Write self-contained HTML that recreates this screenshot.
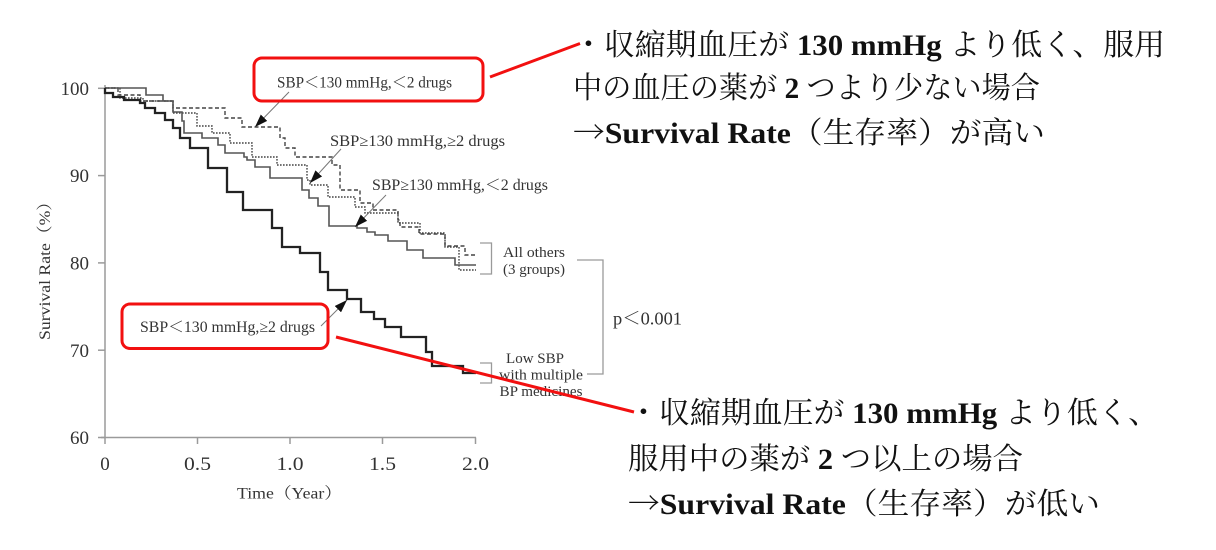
<!DOCTYPE html>
<html>
<head>
<meta charset="utf-8">
<style>
html,body{margin:0;padding:0;background:#fff;}
body{width:1216px;height:550px;overflow:hidden;}
svg{display:block;}
.ch{font-family:"Liberation Serif","Noto Serif CJK SC",serif;fill:#333;}
.jp{font-family:"Liberation Serif","Noto Serif CJK SC",serif;fill:#111;font-size:30px;}
.b{font-weight:bold;}
.ar{font-family:"Noto Serif CJK SC",serif;}
</style>
</head>
<body>
<svg width="1216" height="550" viewBox="0 0 1216 550" xmlns="http://www.w3.org/2000/svg">
<defs>
<marker id="ah" markerUnits="userSpaceOnUse" markerWidth="13" markerHeight="9" refX="13" refY="4.5" orient="auto">
<path d="M0,0 L13,4.5 L0,9 z" fill="#111"/>
</marker>
</defs>
<rect width="1216" height="550" fill="#fff"/>

<!-- axes -->
<g stroke="#9a9a9a" stroke-width="1.5" fill="none">
<line x1="105" y1="85" x2="105" y2="438"/>
<line x1="101" y1="437.5" x2="476" y2="437.5"/>
<line x1="98" y1="88.3" x2="105" y2="88.3"/>
<line x1="98" y1="175.6" x2="105" y2="175.6"/>
<line x1="98" y1="262.9" x2="105" y2="262.9"/>
<line x1="98" y1="350.2" x2="105" y2="350.2"/>
<line x1="98" y1="437.5" x2="105" y2="437.5"/>
<line x1="105" y1="437.5" x2="105" y2="444"/>
<line x1="197.5" y1="437.5" x2="197.5" y2="444"/>
<line x1="290" y1="437.5" x2="290" y2="444"/>
<line x1="382.5" y1="437.5" x2="382.5" y2="444"/>
<line x1="475.5" y1="437.5" x2="475.5" y2="444"/>
</g>

<!-- y tick labels -->
<g class="ch" font-size="19" text-anchor="end">
<text x="89" y="95">100</text>
<text x="89" y="182">90</text>
<text x="89" y="269.5">80</text>
<text x="89" y="357">70</text>
<text x="89" y="444">60</text>
</g>
<!-- x tick labels -->
<g class="ch" font-size="19" text-anchor="middle">
<text x="105" y="470">0</text>
<text x="197.5" y="470" textLength="27" lengthAdjust="spacingAndGlyphs">0.5</text>
<text x="290" y="470" textLength="27" lengthAdjust="spacingAndGlyphs">1.0</text>
<text x="382.5" y="470" textLength="27" lengthAdjust="spacingAndGlyphs">1.5</text>
<text x="475.5" y="470" textLength="27" lengthAdjust="spacingAndGlyphs">2.0</text>
</g>
<text class="ch" x="237" y="498.5" font-size="16" textLength="105" lengthAdjust="spacingAndGlyphs">Time（Year）</text>
<text class="ch" font-size="16" text-anchor="middle" transform="translate(50,266.5) rotate(-90)" textLength="147" lengthAdjust="spacingAndGlyphs">Survival Rate（%）</text>

<!-- curves -->
<g fill="none" stroke-linejoin="miter">
<path d="M105,88 H118 V95 H140 V101 H173 V108 H225 V118 H242 V127 H280 V138 H285 V148 H295 V157 H332 V165 H340 V190 H360 V203 H373 V210 H398 V220 H400 V227 H419 V234 H445 V246 H465 V255 H476" stroke="#444" stroke-width="1.4" stroke-dasharray="4,2.5"/>
<path d="M105,88 H120 V98 H143 V101 H173 V113 H197 V126 H212 V133 H230 V143 H252 V157 H277 V165 H307 V180 H310 V185 H328 V197 H355 V207 H365 V213 H398 V223 H420 V233 H445 V247 H459 V270 H476" stroke="#444" stroke-width="1.4" stroke-dasharray="1.6,1.4"/>
<path d="M105,88 H146 V95 H163 V101 H173 V112 H182 V121 H184 V133 H202 V138 H218 V145 H225 V153 H244 V157 H247 V160 H255 V167 H270 V178 H302 V190 H309 V198 H318 V206 H329 V226 H357 V228 H367 V232 H375 V235 H388 V241 H407 V250 H423 V258 H455 V265 H476" stroke="#555" stroke-width="1.6"/>
<path d="M105,88 V93 H113 V97 H124 V100 H140 V103 H145 V108 H155 V113 H165 V120 H173 V128 H180 V138 H190 V148 H208 V168 H227 V192 H243 V210 H272 V228 H282 V247 H300 V253 H320 V272 H328 V290 H347 V299 H361 V312 H374 V319 H385 V327 H401 V337 H426 V352 H432 V366 H463 V373 H476" stroke="#222" stroke-width="2.3"/>
</g>

<!-- arrows -->
<g stroke="#777" stroke-width="1" marker-end="url(#ah)">
<line x1="289" y1="92" x2="255" y2="127"/>
<line x1="341" y1="149" x2="310" y2="183"/>
<line x1="386" y1="195" x2="355" y2="227"/>
<line x1="321" y1="326" x2="347" y2="300"/>
</g>

<!-- series labels -->
<g class="ch" font-size="15.5">
<text x="277" y="87.5" textLength="175" lengthAdjust="spacingAndGlyphs">SBP＜130 mmHg,＜2 drugs</text>
<text x="330" y="146" textLength="175" lengthAdjust="spacingAndGlyphs">SBP≥130 mmHg,≥2 drugs</text>
<text x="372" y="190" textLength="176" lengthAdjust="spacingAndGlyphs">SBP≥130 mmHg,＜2 drugs</text>
<text x="140" y="332" textLength="175" lengthAdjust="spacingAndGlyphs">SBP＜130 mmHg,≥2 drugs</text>
</g>

<!-- brackets -->
<g stroke="#9a9a9a" stroke-width="1.3" fill="none">
<path d="M480,243 H491.5 V274 H480"/>
<path d="M480,363 H491.5 V383 H480"/>
<path d="M577,260 H603 V374 H587"/>
</g>
<g class="ch" font-size="15">
<text x="503" y="257" textLength="62" lengthAdjust="spacingAndGlyphs">All others</text>
<text x="503" y="274" textLength="62" lengthAdjust="spacingAndGlyphs">(3 groups)</text>
<text x="535" y="363" text-anchor="middle">Low SBP</text>
<text x="541" y="379.5" text-anchor="middle" textLength="84" lengthAdjust="spacingAndGlyphs">with multiple</text>
<text x="541" y="396" text-anchor="middle" textLength="83" lengthAdjust="spacingAndGlyphs">BP medicines</text>
</g>
<text class="ch" x="613" y="324.5" font-size="18" textLength="69" lengthAdjust="spacingAndGlyphs">p＜0.001</text>

<!-- red boxes and lines -->
<g stroke="#f21010" stroke-width="3" fill="none">
<rect x="254" y="58" width="229" height="43" rx="8" ry="8"/>
<rect x="122" y="304" width="206" height="44.5" rx="8" ry="8"/>
<line x1="490" y1="77" x2="580" y2="43.5"/>
<line x1="336" y1="337" x2="634" y2="412"/>
</g>

<!-- Japanese annotations -->
<text class="jp" x="573" y="55" textLength="592" lengthAdjust="spacingAndGlyphs">・収縮期血圧が <tspan class="b">130 mmHg</tspan> より低く、服用</text>
<text class="jp" x="573" y="98" textLength="467" lengthAdjust="spacingAndGlyphs">中の血圧の薬が <tspan class="b">2</tspan> つより少ない場合</text>
<text class="jp" x="573" y="143" textLength="472" lengthAdjust="spacingAndGlyphs"><tspan class="ar">→</tspan><tspan class="b">Survival Rate</tspan>（生存率）が高い</text>

<text class="jp" x="628" y="423" textLength="531" lengthAdjust="spacingAndGlyphs">・収縮期血圧が <tspan class="b">130 mmHg</tspan> より低く、</text>
<text class="jp" x="628" y="469" textLength="395" lengthAdjust="spacingAndGlyphs">服用中の薬が <tspan class="b">2</tspan> つ以上の場合</text>
<text class="jp" x="628" y="514" textLength="472" lengthAdjust="spacingAndGlyphs"><tspan class="ar">→</tspan><tspan class="b">Survival Rate</tspan>（生存率）が低い</text>
</svg>
</body>
</html>
